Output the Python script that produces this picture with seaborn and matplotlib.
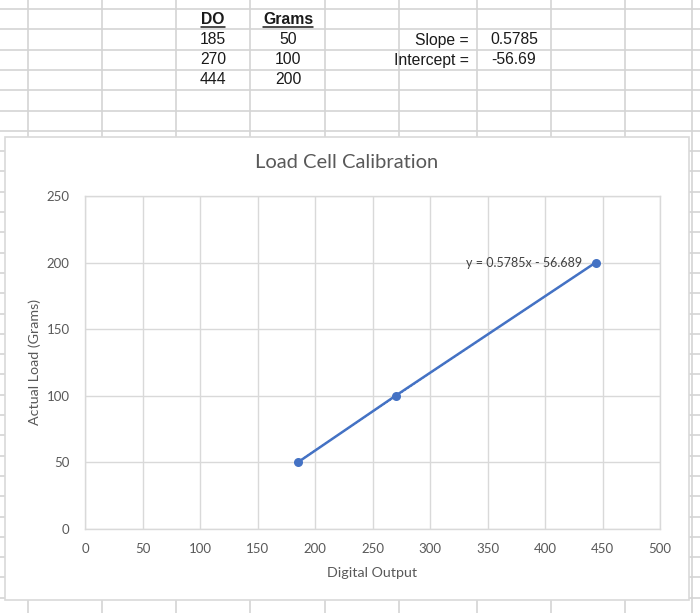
import numpy as np
import pandas as pd
import matplotlib.pyplot as plt
import seaborn as sns
from matplotlib.patches import Rectangle

# calibration data (digital output vs grams)
digital_output = [185, 270, 444]
grams = [50, 100, 200]
slope_text = "0.5785"
intercept_text = "-56.69"
trend_label = "y = 0.5785x - 56.689"
x_ticks = list(range(0, 501, 50))
y_ticks = list(range(0, 251, 50))

sns.set_style("white")
plt.rcParams["font.family"] = ["Lato", "DejaVu Sans"]

W, H = 700, 613
fig = plt.figure(figsize=(W / 100, H / 100), dpi=100)
fig.patch.set_facecolor("white")

# spreadsheet behind the chart, in pixel coords
bg = fig.add_axes([0, 0, 1, 1], zorder=0)
bg.set_xlim(0, W)
bg.set_ylim(H, 0)
bg.axis("off")
sheet_grid = "#d4d4d4"
for x in [28, 102, 176, 250, 325, 399, 477, 551, 625, 692]:
    bg.axvline(x, color=sheet_grid, lw=1.2)
for y in np.arange(9, H, 20.3):
    bg.axhline(y, color=sheet_grid, lw=1.2)

cell_font = ["Liberation Sans Narrow", "Liberation Sans", "DejaVu Sans"]
cell_kw = dict(fontsize=11.3, color="#1a1a1a", family=cell_font, va="center")

for cx, head in [(213, "DO"), (288, "Grams")]:
    t = bg.text(cx, 19, head, ha="center", fontweight="bold", **cell_kw)
    fig.canvas.draw()
    bb = t.get_window_extent().transformed(bg.transData.inverted())
    bg.plot([bb.x0, bb.x1], [26.5, 26.5], color="#1a1a1a", lw=1.1)

row_y = [40, 60, 80]
for y, d, g in zip(row_y, digital_output, grams):
    bg.text(213, y, str(d), ha="center", **cell_kw)
    bg.text(288, y, str(g), ha="center", **cell_kw)

bg.text(469, 40, "Slope =", ha="right", **cell_kw)
bg.text(469, 60, "Intercept =", ha="right", **cell_kw)
bg.text(514, 40, slope_text, ha="center", **cell_kw)
bg.text(514, 60, intercept_text, ha="center", **cell_kw)

# chart object box
bg.add_patch(Rectangle((5, 137), 684, 463, facecolor="white",
                       edgecolor="#d9d9d9", lw=1.2, zorder=5))

# plot area
left, right, top, bottom = 85, 660, 196, 529
ax = fig.add_axes([left / W, 1 - bottom / H, (right - left) / W, (bottom - top) / H],
                  zorder=2)
ax.set_facecolor("white")

df = pd.DataFrame({"DO": digital_output, "Grams": grams})
blue = "#4472c4"
sns.lineplot(data=df, x="DO", y="Grams", ax=ax, color=blue, lw=1.8,
             marker="o", markersize=6.5, markeredgewidth=0, zorder=4)
sns.regplot(data=df, x="DO", y="Grams", ax=ax, scatter=False, ci=None,
            color=blue, line_kws={"lw": 1.0, "ls": ":"})

ax.set_xlim(0, 500)
ax.set_ylim(0, 250)
ax.set_xticks(x_ticks)
ax.set_yticks(y_ticks)
ax.grid(True, color="#d9d9d9", lw=1.0)
ax.set_axisbelow(True)
for s in ax.spines.values():
    s.set_color("#d9d9d9")
    s.set_linewidth(1.0)
ax.tick_params(axis="both", length=0, labelsize=9.5, labelcolor="#595959")
ax.tick_params(axis="y", pad=11)
ax.tick_params(axis="x", pad=10)

ax.set_xlabel("Digital Output", fontsize=10.3, color="#595959")
ax.set_ylabel("Actual Load (Grams)", fontsize=10.3, color="#595959")
ax.xaxis.set_label_coords((372 - left) / (right - left), -(573 - bottom) / (bottom - top))
ax.yaxis.set_label_coords((35 - left) / (right - left), (bottom - 362) / (bottom - top))
ax.xaxis.label.set_va("center")
ax.yaxis.label.set_va("center")

ax.text((347 - left) / (right - left), (bottom - 162) / (bottom - top),
        "Load Cell Calibration", transform=ax.transAxes, ha="center", va="center",
        fontsize=14.5, color="#595959")

ax.text(digital_output[-1] - 12, grams[-1], trend_label, ha="right", va="center",
        fontsize=9, color="#404040")

fig.savefig("out.png", dpi=100)
